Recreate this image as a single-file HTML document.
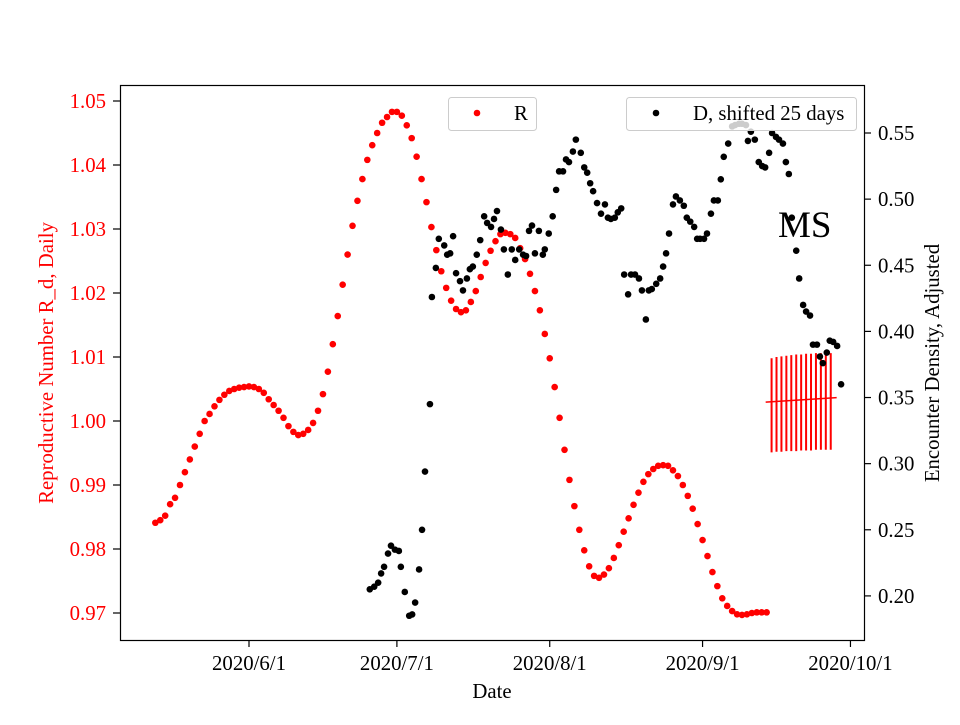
<!DOCTYPE html>
<html><head><meta charset="utf-8"><style>
body{margin:0;background:#fff}
svg text{font-family:"Liberation Serif",serif}
</style></head><body>
<svg id="chart" width="960" height="720" xmlns="http://www.w3.org/2000/svg">
<rect width="960" height="720" fill="#fff"/>
<g id="marks"></g>
<rect x="120.5" y="85.5" width="744" height="555" fill="none" stroke="#000" stroke-width="1.2"/>
<g id="axes"></g>
<text x="492" y="698" font-size="20.8" text-anchor="middle">Date</text>
<text transform="translate(53,363) rotate(-90)" font-size="20.8" text-anchor="middle" fill="#ff0000">Reproductive Number R_d, Daily</text>
<text transform="translate(939,363) rotate(-90)" font-size="20.8" text-anchor="middle">Encounter Density, Adjusted</text>
<text x="778" y="237" font-size="37">MS</text>
<g>
<rect x="448.5" y="97.5" width="88" height="33" rx="3" fill="#fff" fill-opacity="0.8" stroke="#ccc"/>
<circle cx="477" cy="113" r="3.3" fill="#ff0000"/>
<text x="514" y="120" font-size="20.8">R</text>
</g>
<g>
<rect x="626.5" y="97.5" width="230" height="33" rx="3" fill="#fff" fill-opacity="0.8" stroke="#ccc"/>
<circle cx="656" cy="113" r="3.3" fill="#000"/>
<text x="693" y="120" font-size="20.8">D, shifted 25 days</text>
</g>
</svg>
<script>
// R series: daily values starting 2020/5/13 (day -19 relative to 6/1)
const rStartDay = -19;
const rValues = [0.9841,0.9845,0.9852,0.9870,0.9880,0.9900,0.9920,0.9940,0.9960,0.9980,1.0000,1.0011,1.0023,1.0033,1.0041,1.0047,1.0050,1.0052,1.0053,1.0054,1.0053,1.0050,1.0044,1.0034,1.0025,1.0016,1.0005,0.9992,0.9983,0.9978,0.9980,0.9986,0.9997,1.0016,1.0042,1.0077,
1.0120,1.0164,1.0213,1.0260,1.0305,1.0344,1.0378,1.0408,1.0431,1.0450,1.0466,1.0475,1.0483,1.0483,1.0477,1.0462,1.0442,1.0413,1.0378,1.0342,1.0303,1.0267,1.0234,1.0208,1.0188,1.0175,1.0170,1.0173,1.0186,1.0203,1.0225,1.0247,1.0266,1.0281,1.0292,1.0294,1.0292,1.0286,1.0270,1.0253,1.0230,1.0203,1.0173,1.0136,
1.0098,1.0053,1.0005,0.9955,0.9908,0.9867,0.9830,0.9798,0.9773,0.9758,0.9755,0.9760,0.9770,0.9786,0.9806,0.9827,0.9848,0.9869,0.9888,0.9905,0.9917,0.9925,0.9930,0.9931,0.9930,0.9923,0.9914,0.9900,0.9883,0.9863,0.9839,0.9814,0.9789,0.9764,0.9742,0.9723,0.9711,0.9703,0.9698,0.9697,0.9698,0.9700,0.9701,0.9701,0.9701];
// D series: days relative to 2020/6/1, values
const dDays = [24.5,25.4,26.2,26.8,27.4,28.2,28.8,29.6,30.4,30.8,31.6,32.5,33.1,33.7,34.5,35.1,35.7,36.7,37.1,37.9,38.5,39.6,40.2,40.8,41.4,42.0,42.8,43.4,44.2,44.8,45.4,46.2,46.9,47.7,48.3,49.1,49.7,50.3,51.1,51.7,52.5,53.3,54.0,54.8,55.6,56.2,56.8,57.4,58.0,58.8,59.6,60.0,60.8,61.6,62.3,62.9,63.7,64.3,64.9,65.7,66.3,67.3,68.0,68.6,69.2,69.8,70.6,71.4,72.2,72.8,73.4,74.2,74.8,75.5,76.1,76.9,77.5,78.3,79.1,79.7,80.5,81.1,81.7,82.6,83.4,84.0,84.6,85.2,86.0,86.6,87.4,88.2,88.8,89.5,90.3,90.9,91.5,92.3,92.9,93.7,94.3,95.1,95.7,96.3,97.2,98.0,98.6,99.4,100.0,100.8,101.2,101.8,102.6,103.4,104.1,104.7,105.5,106.1,106.9,107.5,108.3,108.9,109.5,110.1,111.0,111.6,112.4,113.0,113.8,114.4,115.2,115.8,116.4,117.2,117.8,118.5,119.3,120.1];
const dValues = [0.205,0.207,0.210,0.217,0.222,0.232,0.238,0.235,0.234,0.222,0.203,0.185,0.186,0.195,0.220,0.250,0.294,0.345,0.426,0.448,0.470,0.465,0.458,0.459,0.472,0.444,0.438,0.431,0.440,0.447,0.449,0.458,0.469,0.487,0.482,0.479,0.485,0.491,0.477,0.462,0.443,0.462,0.454,0.462,0.458,0.457,0.476,0.480,0.459,0.476,0.458,0.462,0.474,0.487,0.507,0.521,0.521,0.530,0.528,0.536,0.545,0.535,0.524,0.520,0.512,0.506,0.497,0.489,0.496,0.486,0.485,0.486,0.490,0.493,0.443,0.428,0.443,0.443,0.440,0.431,0.409,0.431,0.432,0.436,0.440,0.449,0.459,0.474,0.496,0.502,0.499,0.495,0.486,0.483,0.479,0.470,0.470,0.470,0.474,0.489,0.499,0.499,0.515,0.532,0.542,0.555,0.556,0.557,0.557,0.556,0.544,0.551,0.545,0.528,0.525,0.524,0.535,0.550,0.547,0.545,0.542,0.528,0.519,0.486,0.461,0.440,0.420,0.415,0.412,0.390,0.390,0.381,0.376,0.384,0.393,0.392,0.389,0.360];
// Forecast error bars (left axis)
const eStartDay = 106;
const eMean = [1.0030,1.0031,1.0031,1.0032,1.0032,1.0033,1.0033,1.0034,1.0034,1.0035,1.0035,1.0036,1.0036];
const eHi = [1.0098,1.0100,1.0101,1.0102,1.0103,1.0104,1.0104,1.0105,1.0105,1.0106,1.0106,1.0106,1.0106];
const eLo = [0.9951,0.9952,0.9952,0.9953,0.9953,0.9953,0.9954,0.9954,0.9954,0.9955,0.9955,0.9955,0.9955];
const xTickDays = [0,30,61,92,122];
const xTickLabels = ["2020/6/1","2020/7/1","2020/8/1","2020/9/1","2020/10/1"];
const yLeftTicks = [0.97,0.98,0.99,1.00,1.01,1.02,1.03,1.04,1.05];
const yRightTicks = [0.20,0.25,0.30,0.35,0.40,0.45,0.50,0.55];

const NS="http://www.w3.org/2000/svg";
const X = d => 249 + d*4.93;
const YL = v => 101 + (1.05 - v)*6400;
const YR = v => 133 + (0.55 - v)*1322.6;
const marks=document.getElementById('marks'), axes=document.getElementById('axes');
function mk(tag,attrs,parent){const e=document.createElementNS(NS,tag);for(const k in attrs)e.setAttribute(k,attrs[k]);parent.appendChild(e);return e;}

for(let i=0;i<eMean.length;i++){
  const x=X(eStartDay+i);
  const l=mk('line',{x1:x,x2:x,y1:YL(eHi[i]),y2:YL(eLo[i]),stroke:'#ff0000','stroke-width':2},marks);
  
  
}
{
  const n=eMean.length;
  const slope=(eMean[n-1]-eMean[0])/(n-1);
  const l=mk('line',{x1:X(eStartDay-1.2),y1:YL(eMean[0]-slope*1.2),x2:X(eStartDay+n-1+1.2),y2:YL(eMean[n-1]+slope*1.2),stroke:'#ff0000','stroke-width':1.5},marks);
  
  
}
rValues.forEach((v,i)=>{
  const c=mk('circle',{cx:X(rStartDay+i),cy:YL(v),r:3.3,fill:'#ff0000'},marks);
  
  
});
dValues.forEach((v,i)=>{
  const c=mk('circle',{cx:X(dDays[i]),cy:YR(v),r:3.3,fill:'#000'},marks);
  
  
});
xTickDays.forEach((d,i)=>{
  const x=X(d);
  mk('line',{x1:x,x2:x,y1:640,y2:647,stroke:'#000','stroke-width':1.2},axes);
  const t=mk('text',{x:x,y:670,'font-size':20.8,'text-anchor':'middle'},axes);
  t.textContent=xTickLabels[i];
  
  
});
yLeftTicks.forEach(v=>{
  const y=YL(v);
  mk('line',{x1:113,x2:120,y1:y,y2:y,stroke:'#000','stroke-width':1.2},axes);
  const t=mk('text',{x:106,y:y+7,'font-size':20.8,'text-anchor':'end',fill:'#ff0000'},axes);
  t.textContent=v.toFixed(2);
  
  
});
yRightTicks.forEach(v=>{
  const y=YR(v);
  mk('line',{x1:864,x2:871,y1:y,y2:y,stroke:'#000','stroke-width':1.2},axes);
  const t=mk('text',{x:878,y:y+7,'font-size':20.8},axes);
  t.textContent=v.toFixed(2);
  
  
});
</script>
</body></html>
